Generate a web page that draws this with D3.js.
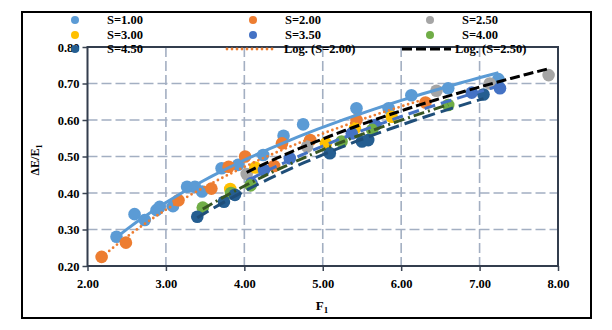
<!DOCTYPE html>
<html><head><meta charset="utf-8">
<script src="https://cdn.jsdelivr.net/npm/d3@7"></script>
<style>body{margin:0;background:#fff}svg{display:block}</style>
</head><body>
<svg id="c" width="612" height="330"></svg>
<script>
const seriesNames = ["S=1.00","S=2.00","S=2.50","S=3.00","S=3.50","S=4.00","S=4.50"];
const seriesColors = ["#5b9bd5","#ed7d31","#a5a5a5","#ffc000","#4472c4","#70ad47","#255e91"];
const xS1 = [2.37,2.60,2.73,2.88,2.92,3.09,3.27,3.37,3.46,3.71,3.92,4.24,4.50,4.75,5.43,5.84,6.13,6.60,7.24];
const yS1 = [0.280,0.342,0.326,0.353,0.362,0.364,0.417,0.417,0.404,0.468,0.477,0.504,0.557,0.588,0.632,0.632,0.668,0.687,0.712];
const xS2 = [2.18,2.49,3.16,3.58,3.80,4.01,4.38,4.48,4.84,5.43,6.31];
const yS2 = [0.225,0.264,0.380,0.412,0.472,0.500,0.474,0.536,0.545,0.600,0.648];
const xS25 = [4.03,4.80,6.45,7.13,7.88];
const yS25 = [0.452,0.527,0.680,0.700,0.723];
const xS3 = [3.82,4.14,5.04,5.41,5.88];
const yS3 = [0.411,0.470,0.536,0.577,0.609];
const xS35 = [4.09,4.25,4.58,5.37,5.67,6.90,7.26];
const yS35 = [0.427,0.463,0.495,0.563,0.586,0.675,0.687];
const xS4 = [3.47,3.83,4.08,5.24,5.63,6.60];
const yS4 = [0.360,0.400,0.421,0.541,0.573,0.641];
const xS45 = [3.40,3.74,3.88,5.09,5.50,5.58,7.05];
const yS45 = [0.335,0.376,0.395,0.509,0.541,0.545,0.670];
const xTicks = [2,3,4,5,6,7,8];
const yTicks = [0.2,0.3,0.4,0.5,0.6,0.7,0.8];

const seriesX = [xS1,xS2,xS25,xS3,xS35,xS4,xS45];
const seriesY = [yS1,yS2,yS25,yS3,yS35,yS4,yS45];
const trendStyles = [
  {color:"#5b9bd5", dash:null, w:3, cap:"butt"},
  {color:"#ed7d31", dash:"0,5", w:2.8, cap:"round"},
  {color:"#000000", dash:"10,4", w:3, cap:"butt"},
  null,
  {color:"#4472c4", dash:"11,6", w:3, cap:"butt"},
  {color:"#375623", dash:"11,4,2,4", w:3, cap:"butt"},
  {color:"#1f4e79", dash:"13,6", w:3, cap:"butt"}
];

const svg = d3.select("#c");
const font = "'Liberation Serif','Times New Roman',serif";
const L=87.5, R=558, T=47, B=266;
const x = d3.scaleLinear().domain([2,8]).range([L,R]);
const y = d3.scaleLinear().domain([0.2,0.8]).range([B,T]);

svg.append("rect").attr("x",22).attr("y",12).attr("width",569).attr("height",306)
  .attr("fill","#fff").attr("stroke","#000").attr("stroke-width",2);

const grid = svg.append("g").attr("stroke","#a3afc2").attr("stroke-width",1.6).attr("stroke-dasharray","10,4");
xTicks.slice(1,-1).forEach(v=>grid.append("line").attr("x1",x(v)).attr("x2",x(v)).attr("y1",T).attr("y2",B));
yTicks.slice(1,-1).forEach(v=>grid.append("line").attr("y1",y(v)).attr("y2",y(v)).attr("x1",L).attr("x2",R));

const xAxis = d3.axisBottom(x).tickValues(xTicks).tickFormat(d3.format(".2f")).tickSize(5).tickSizeOuter(0);
const yAxis = d3.axisLeft(y).tickValues(yTicks).tickFormat(d3.format(".2f")).tickSize(5).tickSizeOuter(0);
const gx = svg.append("g").attr("transform",`translate(0,${B})`).call(xAxis);
const gy = svg.append("g").attr("transform",`translate(${L},0)`).call(yAxis);
[gx,gy].forEach(g=>{
  g.select(".domain").remove();
  g.selectAll(".tick line").attr("stroke","#3b4453").attr("stroke-width",1.5);
  g.selectAll("text").attr("font-family",font).attr("font-weight","bold").attr("font-size",12.5).attr("fill","#000");
});
gx.selectAll("text").attr("dy","1.15em");
gy.selectAll("text").attr("x",-8);
svg.append("rect").attr("x",L).attr("y",T).attr("width",R-L).attr("height",B-T)
  .attr("fill","none").attr("stroke","#333d4d").attr("stroke-width",2);

seriesX.forEach((xs,i)=>{
  svg.append("g").selectAll("circle").data(xs.map((v,j)=>[v,seriesY[i][j]])).join("circle")
    .attr("cx",d=>x(d[0])).attr("cy",d=>y(d[1])).attr("r",6.3).attr("fill",seriesColors[i]);
});

function logFit(xs,ys){
  const lx = xs.map(Math.log);
  const mx = d3.mean(lx), my = d3.mean(ys);
  let sxy=0,sxx=0;
  lx.forEach((v,k)=>{sxy+=(v-mx)*(ys[k]-my);sxx+=(v-mx)*(v-mx);});
  const a=sxy/sxx; return {a, b:my-a*mx};
}
seriesX.forEach((xs,i)=>{
  const st = trendStyles[i]; if(!st) return;
  const f = logFit(xs,seriesY[i]);
  const [x0,x1]=d3.extent(xs);
  const pts = d3.range(0,41).map(k=>{const xv=x0+(x1-x0)*k/40;return [xv,f.a*Math.log(xv)+f.b];});
  svg.append("path").datum(pts).attr("d",d3.line().x(d=>x(d[0])).y(d=>y(d[1])))
    .attr("fill","none").attr("stroke",st.color).attr("stroke-width",st.w)
    .attr("stroke-dasharray",st.dash).attr("stroke-linecap",st.cap);
});

svg.append("text").attr("x",322).attr("y",310).attr("text-anchor","middle")
  .attr("font-family",font).attr("font-weight","bold").attr("font-size",13)
  .html('F<tspan font-size="9" dy="3">1</tspan>');
svg.append("text").attr("transform","translate(39,160) rotate(-90)").attr("text-anchor","middle")
  .attr("font-family",font).attr("font-weight","bold").attr("font-size",12)
  .html('ΔE/E<tspan font-size="8" dy="3">1</tspan>');

const legendItems = [
  {type:"pt", i:0, label:"S=1.00", mx:75, tx:107, yy:20},
  {type:"pt", i:1, label:"S=2.00", mx:253, tx:285, yy:20},
  {type:"pt", i:2, label:"S=2.50", mx:430, tx:462, yy:20},
  {type:"pt", i:3, label:"S=3.00", mx:75, tx:107, yy:35},
  {type:"pt", i:4, label:"S=3.50", mx:253, tx:285, yy:35},
  {type:"pt", i:5, label:"S=4.00", mx:430, tx:462, yy:35},
  {type:"pt", i:6, label:"S=4.50", mx:75, tx:107, yy:49},
  {type:"ln", i:1, label:"Log. (S=2.00)", mx:253, tx:284, yy:49},
  {type:"ln", i:2, label:"Log. (S=2.50)", mx:428, tx:455, yy:49}
];
const lg = svg.append("g");
legendItems.forEach(it=>{
  if(it.type==="pt"){
    lg.append("circle").attr("cx",it.mx).attr("cy",it.yy).attr("r",4).attr("fill",seriesColors[it.i]);
  } else {
    const st=trendStyles[it.i];
    lg.append("line").attr("x1",it.mx-26).attr("x2",it.mx+23).attr("y1",it.yy).attr("y2",it.yy)
      .attr("stroke",st.color).attr("stroke-width",st.w).attr("stroke-dasharray",st.dash).attr("stroke-linecap",st.cap);
  }
  lg.append("text").attr("x",it.tx).attr("y",it.yy+4).attr("font-family",font).attr("font-weight","bold")
    .attr("font-size",12.5).text(it.label);
});
</script>
</body></html>
